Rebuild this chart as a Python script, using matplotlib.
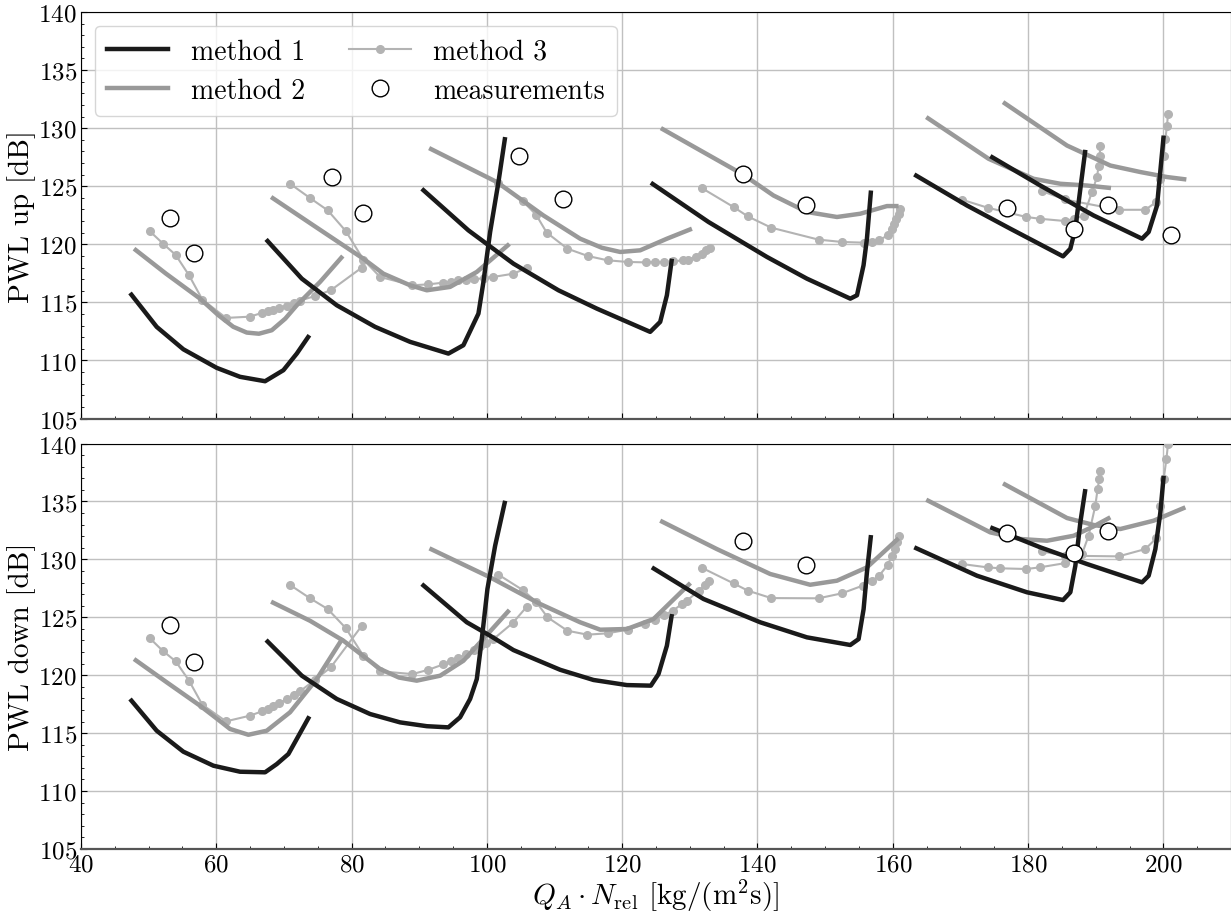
import matplotlib
matplotlib.use("Agg")
import matplotlib.pyplot as plt
from matplotlib.ticker import MultipleLocator
from matplotlib.lines import Line2D

plt.rcParams['font.family'] = 'serif'
plt.rcParams['font.serif'] = ['cmr10', 'DejaVu Serif']
plt.rcParams['mathtext.fontset'] = 'cm'
plt.rcParams['axes.formatter.use_mathtext'] = True

# ---------------- PWL up ----------------
m1_up_x = [
    [47.25, 51.19, 55.13, 60.07, 63.51, 67.21, 69.92, 71.90, 73.76],
    [67.36, 72.64, 77.81, 83.48, 88.65, 94.31, 96.53, 98.75, 99.49, 100.48, 101.71, 102.70],
    [90.38, 97.27, 103.93, 110.58, 116.26, 124.14, 125.62, 126.61, 127.35],
    [124.24, 132.76, 141.40, 147.31, 153.72, 154.71, 155.68, 156.18, 156.78],
    [163.18, 170.97, 177.38, 185.17, 186.25, 186.99, 187.73, 188.47],
    [174.42, 181.81, 189.69, 196.85, 197.83, 199.07, 200.05],
]
m1_up_y = [
    [115.81, 112.89, 110.96, 109.36, 108.59, 108.21, 109.16, 110.59, 112.17],
    [120.42, 117.04, 114.75, 112.89, 111.60, 110.59, 111.31, 114.03, 116.76, 121.06, 125.36, 129.23],
    [124.78, 121.20, 118.33, 116.04, 114.46, 112.46, 113.32, 115.61, 118.76],
    [125.30, 121.92, 118.91, 117.04, 115.32, 115.61, 118.19, 120.48, 124.63],
    [126.01, 123.34, 121.34, 118.96, 119.62, 121.34, 124.78, 128.13],
    [127.59, 125.06, 122.48, 120.48, 121.06, 123.34, 129.36],
]
m2_up_x = [
    [47.84, 52.5, 57.60, 60.3, 62.5, 64.5, 66.3, 68.2, 70.2, 71.90, 75.34, 78.70],
    [68.10, 74.35, 81.74, 84.70, 88.65, 91.12, 94.56, 98.51, 103.33],
    [91.46, 101.47, 108.36, 113.79, 117.0, 119.70, 122.66, 126.61, 130.31],
    [125.72, 137.94, 142.37, 147.31, 151.75, 155.19, 159.14, 160.86],
    [164.95, 174.17, 180.82, 184.77, 188.71, 192.26],
    [176.30, 185.76, 192.16, 196.60, 200.54, 203.40],
]
m2_up_y = [
    [119.62, 117.5, 115.32, 113.9, 112.9, 112.4, 112.3, 112.6, 113.6, 114.75, 116.76, 118.99],
    [124.07, 121.63, 118.76, 117.47, 116.47, 116.04, 116.33, 117.62, 120.03],
    [128.28, 125.36, 122.48, 120.48, 119.7, 119.34, 119.48, 120.48, 121.34],
    [130.00, 125.98, 124.20, 122.78, 122.35, 122.63, 123.29, 123.29],
    [130.95, 127.36, 125.64, 125.21, 125.06, 124.84],
    [132.24, 128.50, 126.78, 126.22, 125.79, 125.58],
]
m3_up_x = [
    [50.20, 52.17, 54.00, 55.97, 57.94, 61.44, 64.99, 66.72, 67.61, 68.44, 69.33, 70.42, 71.50, 72.38, 74.60, 76.92, 81.51],
    [70.91, 73.86, 76.48, 79.14, 81.74, 84.21, 88.99, 91.36, 93.58, 94.71, 95.79, 96.93, 98.11, 99.64, 100.97, 103.93, 106.00],
    [101.71, 105.31, 107.28, 108.85, 111.91, 114.93, 117.84, 120.79, 123.55, 124.88, 126.21, 127.50, 128.97, 129.66, 130.94, 131.79, 132.42, 132.91],
    [131.77, 136.46, 138.58, 142.03, 149.03, 152.48, 155.68, 156.92, 157.90, 159.29, 159.88, 160.22, 160.52, 160.86, 161.11],
    [170.22, 174.02, 179.74, 181.71, 185.50, 186.74, 188.22, 189.45, 190.19, 190.44, 190.59, 190.69],
    [182.05, 185.40, 193.39, 197.33, 198.96, 199.55, 200.05, 200.30, 200.54, 200.69],
]
m3_up_y = [
    [121.11, 120.03, 119.08, 117.33, 115.24, 113.66, 113.77, 114.09, 114.23, 114.38, 114.55, 114.72, 114.95, 115.15, 115.55, 116.04, 117.99],
    [125.21, 123.98, 122.92, 121.14, 118.68, 117.19, 116.47, 116.55, 116.70, 116.78, 116.90, 116.96, 116.98, 117.10, 117.19, 117.47, 117.99],
    [125.27, 123.72, 122.54, 121.00, 119.62, 118.99, 118.62, 118.48, 118.44, 118.48, 118.48, 118.53, 118.62, 118.68, 118.91, 119.19, 119.48, 119.71],
    [124.84, 123.21, 122.40, 121.43, 120.40, 120.20, 120.14, 120.20, 120.34, 120.77, 121.34, 121.77, 122.20, 122.63, 123.06],
    [123.84, 123.15, 122.35, 122.20, 122.00, 122.20, 122.43, 124.50, 125.79, 126.78, 127.64, 128.50],
    [124.58, 123.86, 122.97, 122.97, 123.64, 125.64, 127.64, 129.08, 130.22, 131.23],
]
meas_up_x = [53.16, 56.76, 77.07, 81.65, 104.82, 111.18, 137.85, 147.11, 176.89, 186.84, 191.81, 201.18]
meas_up_y = [122.26, 119.28, 125.79, 122.69, 127.59, 123.92, 126.04, 123.35, 123.15, 121.34, 123.35, 120.83]

# ---------------- PWL down ----------------
m1_dn_x = [
    [47.25, 51.19, 55.13, 59.57, 63.51, 67.21, 68.94, 70.66, 73.76],
    [67.36, 72.64, 77.81, 82.74, 87.17, 91.12, 94.31, 96.04, 97.52, 98.51, 99.25, 100.08, 101.22, 102.70],
    [90.38, 97.03, 100.48, 103.93, 110.83, 115.76, 120.69, 124.24, 125.37, 126.61, 127.35],
    [124.39, 132.03, 140.41, 147.31, 153.72, 154.95, 155.69, 156.18, 156.78],
    [163.18, 172.45, 179.84, 185.17, 186.25, 186.99, 187.73, 188.47],
    [174.42, 181.81, 188.71, 196.85, 197.83, 198.82, 199.56, 200.05],
]
m1_dn_y = [
    [117.95, 115.21, 113.40, 112.19, 111.67, 111.62, 112.33, 113.20, 116.45],
    [123.04, 119.96, 117.95, 116.65, 115.93, 115.60, 115.50, 116.37, 117.95, 119.67, 123.12, 127.44, 131.18, 135.06],
    [127.87, 124.57, 123.41, 122.17, 120.47, 119.59, 119.15, 119.10, 120.10, 122.55, 125.28],
    [129.31, 126.58, 124.57, 123.27, 122.61, 123.12, 125.71, 128.88, 132.10],
    [131.04, 128.59, 127.16, 126.49, 127.16, 129.45, 133.20, 136.07],
    [132.77, 131.04, 129.60, 128.02, 128.59, 130.89, 134.06, 137.22],
]
m2_dn_x = [
    [47.84, 52.67, 57.60, 60.2, 62.03, 64.74, 67.46, 70.90, 74.85, 78.70],
    [68.10, 73.86, 78.79, 84.21, 87.0, 89.63, 93.09, 96.53, 99.99, 103.33],
    [91.51, 100.48, 107.87, 113.79, 116.75, 120.69, 124.63, 130.09],
    [125.62, 134.00, 141.88, 147.79, 151.75, 156.18, 160.86],
    [164.95, 174.42, 178.86, 182.80, 186.74, 189.69, 192.16],
    [176.30, 185.76, 189.69, 193.63, 198.56, 203.25],
]
m2_dn_y = [
    [121.40, 119.39, 117.37, 116.2, 115.36, 114.86, 115.21, 116.80, 119.67, 123.21],
    [126.35, 124.70, 122.98, 120.54, 119.8, 119.53, 119.96, 121.25, 123.47, 125.63],
    [130.95, 128.45, 126.15, 124.57, 123.93, 123.99, 124.85, 127.96],
    [133.34, 130.89, 128.74, 127.81, 128.16, 129.31, 131.82],
    [135.15, 132.33, 131.76, 131.61, 132.04, 132.85, 133.63],
    [136.56, 133.57, 132.97, 132.62, 133.34, 134.49],
]
m3_dn_x = [
    [50.20, 52.08, 54.00, 55.97, 57.94, 61.44, 64.99, 66.72, 67.61, 68.44, 69.33, 70.42, 71.50, 72.38, 74.60, 76.92, 81.51],
    [70.91, 73.86, 76.48, 79.14, 81.74, 84.21, 88.99, 91.36, 93.58, 94.67, 95.80, 96.94, 98.12, 99.01, 99.89, 100.97, 103.82, 105.89],
    [101.71, 105.31, 107.28, 108.96, 111.91, 114.87, 117.84, 120.79, 123.41, 124.88, 126.21, 127.50, 128.83, 129.57, 131.29, 132.28, 132.78],
    [131.87, 136.46, 138.58, 142.03, 149.03, 152.48, 155.54, 156.92, 157.90, 159.24, 159.88, 160.27, 160.62, 160.96],
    [170.22, 174.02, 175.90, 179.74, 181.71, 185.50, 187.97, 188.95, 189.94, 190.28, 190.53, 190.69],
    [182.05, 185.40, 193.39, 197.33, 198.96, 199.55, 200.05, 200.45, 200.69, 200.85],
]
m3_dn_y = [
    [123.18, 122.11, 121.20, 119.53, 117.45, 116.02, 116.51, 116.88, 117.11, 117.34, 117.60, 117.95, 118.29, 118.61, 119.61, 120.68, 124.27],
    [127.79, 126.64, 125.71, 124.07, 121.68, 120.34, 120.10, 120.47, 120.94, 121.20, 121.48, 121.83, 122.21, 122.49, 122.78, 123.12, 124.51, 125.91],
    [128.68, 127.35, 126.34, 125.00, 123.84, 123.50, 123.62, 123.93, 124.42, 124.79, 125.20, 125.57, 126.15, 126.43, 127.29, 127.79, 128.16],
    [129.25, 127.93, 127.30, 126.66, 126.64, 127.07, 127.73, 128.16, 128.53, 129.51, 130.32, 130.89, 131.47, 131.99],
    [129.60, 129.31, 129.23, 129.17, 129.31, 129.68, 130.46, 132.04, 134.63, 136.07, 136.94, 137.65],
    [130.69, 130.32, 130.26, 130.89, 131.82, 134.63, 136.94, 138.66, 139.96, 141.00],
]
meas_dn_x = [53.16, 56.76, 137.85, 147.16, 176.89, 186.84, 191.81]
meas_dn_y = [124.33, 121.17, 131.61, 129.51, 132.25, 130.52, 132.47]

C1 = '#1a1a1a'
C2 = '#999999'
C3 = '#b3b3b3'

fig = plt.figure(figsize=(12.31, 9.2), dpi=100)
ax1 = fig.add_axes([0.0658, 0.544, 0.9342, 0.4419])
ax2 = fig.add_axes([0.0658, 0.0761, 0.9342, 0.4407])


def draw(ax, m1x, m1y, m2x, m2y, m3x, m3y, mx, my):
    for xs, ys in zip(m3x, m3y):
        ax.plot(xs, ys, color=C3, lw=1.5, marker='o', ms=5.5, zorder=3)
    for xs, ys in zip(m2x, m2y):
        ax.plot(xs, ys, color=C2, lw=3.2, zorder=4, solid_capstyle='butt')
    for xs, ys in zip(m1x, m1y):
        ax.plot(xs, ys, color=C1, lw=3.2, zorder=5, solid_capstyle='butt')
    ax.plot(mx, my, ls='none', marker='o', ms=12, mfc='white', mec='black',
            mew=1.0, zorder=6)
    ax.set_xlim(40, 210)
    ax.set_ylim(105, 140)
    ax.xaxis.set_major_locator(MultipleLocator(20))
    ax.xaxis.set_minor_locator(MultipleLocator(5))
    ax.yaxis.set_major_locator(MultipleLocator(5))
    ax.yaxis.set_minor_locator(MultipleLocator(1))
    ax.grid(True, which='major', color='#c0c0c0', lw=1.0)
    ax.set_axisbelow(True)
    ax.tick_params(axis='both', which='major', labelsize=18, direction='in', length=4, pad=3)
    ax.tick_params(axis='both', which='minor', direction='in', length=2)
    ax.spines['bottom'].set_color('#555555')
    ax.spines['bottom'].set_linewidth(1.6)


draw(ax1, m1_up_x, m1_up_y, m2_up_x, m2_up_y, m3_up_x, m3_up_y, meas_up_x, meas_up_y)
draw(ax2, m1_dn_x, m1_dn_y, m2_dn_x, m2_dn_y, m3_dn_x, m3_dn_y, meas_dn_x, meas_dn_y)
ax1.tick_params(axis='x', labelbottom=False)

ax1.set_ylabel('PWL up [dB]', fontsize=21, labelpad=2)
ax2.set_ylabel('PWL down [dB]', fontsize=21, labelpad=2)
ax2.set_xlabel(r'$Q_A \cdot N_{\rm rel}$ [kg/(m$^2$s)]', fontsize=21, labelpad=1)

handles = [
    Line2D([], [], color=C1, lw=3.2),
    Line2D([], [], color=C2, lw=3.2),
    Line2D([], [], color=C3, lw=1.5, marker='o', ms=5.5),
    Line2D([], [], ls='none', marker='o', ms=12, mfc='white', mec='black', mew=1.0),
]
labels = ['method 1', 'method 2', 'method 3', 'measurements']
ax1.legend(handles, labels, loc='upper left',
           ncol=2, fontsize=20, frameon=True, framealpha=0.8, edgecolor='#cccccc',
           handlelength=2.2, handletextpad=0.8, columnspacing=1.6,
           borderaxespad=0.5, labelspacing=0.45, borderpad=0.45)

fig.savefig('out.png', dpi=100)
